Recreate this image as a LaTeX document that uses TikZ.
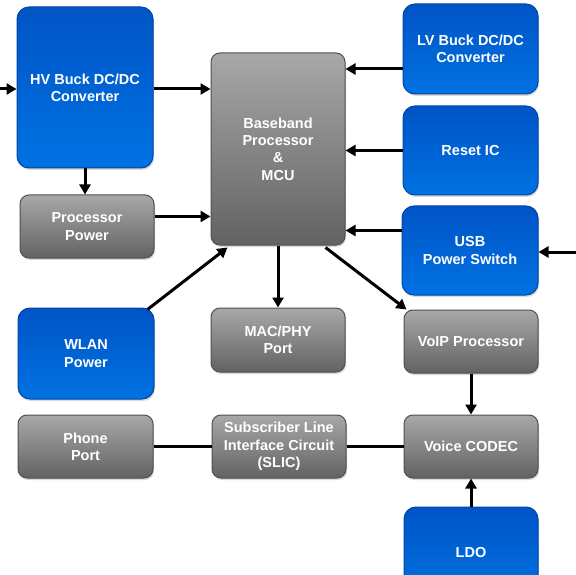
\documentclass[tikz,border=0pt]{standalone}
\usepackage{fontspec}
\setmainfont{Liberation Sans}
\usetikzlibrary{arrows.meta,shadows}
\definecolor{bluetop}{RGB}{0,84,198}
\definecolor{bluebot}{RGB}{0,114,226}
\definecolor{blueedge}{RGB}{0,70,168}
\definecolor{greytop}{RGB}{168,168,168}
\definecolor{greybot}{RGB}{98,98,98}
\definecolor{greyedge}{RGB}{80,80,80}

\begin{document}
\begin{tikzpicture}[x=1pt,y=-1pt,
    box/.style={text=white, align=center, inner sep=0pt, line width=1pt,
      font=\fontsize{14.5}{17.3}\selectfont\bfseries,
      drop shadow={shadow xshift=1pt, shadow yshift=-2pt, opacity=0.3}},
    bluebox/.style={box, rounded corners=12pt, draw=blueedge, top color=bluetop, bottom color=bluebot},
    greybox/.style={box, rounded corners=9pt, draw=greyedge, top color=greytop, bottom color=greybot},
    arr/.style={line width=3pt, -{Triangle[length=10pt,width=11pt]}},
    wire/.style={line width=3pt}]

    \useasboundingbox (0,0) rectangle (576,575);
    \clip (0,0) rectangle (576,575);

    \node[bluebox, minimum width=136pt, minimum height=161pt] (hv) at (85,87.5) {HV Buck DC/DC\\Converter};
    \node[greybox, minimum width=134pt, minimum height=63pt] (procpow) at (87,226.5) {Processor\\Power};
    \node[greybox, minimum width=134pt, minimum height=192pt] (bb) at (278,149) {Baseband\\Processor\\\&\\MCU};
    \node[bluebox, minimum width=135pt, minimum height=90pt] (lv) at (470.5,49) {LV Buck DC/DC\\Converter};
    \node[bluebox, minimum width=135pt, minimum height=89pt] (reset) at (470.5,150.5) {Reset IC};
    \node[bluebox, minimum width=136pt, minimum height=89pt] (usb) at (470,250.5) {USB\\Power Switch};
    \node[bluebox, minimum width=136pt, minimum height=91pt] (wlan) at (86,353.5) {WLAN\\Power};
    \node[greybox, minimum width=134pt, minimum height=64pt] (mac) at (278,340) {MAC/PHY\\Port};
    \node[greybox, minimum width=134pt, minimum height=63pt] (voip) at (471,341.5) {VoIP Processor};
    \node[greybox, minimum width=135pt, minimum height=63pt] (phone) at (85.5,446.5) {Phone\\Port};
    \node[greybox, minimum width=134pt, minimum height=63pt] (slic) at (279,446.5) {Subscriber Line\\Interface Circuit\\(SLIC)};
    \node[greybox, minimum width=134pt, minimum height=63pt] (codec) at (471,446.5) {Voice CODEC};
    \node[bluebox, minimum width=134pt, minimum height=92pt] (ldo) at (471,553) {LDO};

    \coordinate (hvin) at (0,89);
    \coordinate (usbin) at (576,252);

    \draw[arr] (hvin) -- (hvin -| hv.west);
    \draw[arr] ([yshift=-1.5pt]hv.east) -- ([yshift=-1.5pt]hv.east -| bb.west);
    \draw[arr] (hv.south) -- (hv.south |- procpow.north);
    \draw[arr] ([yshift=10pt]procpow.east) -- ([yshift=10pt]procpow.east -| bb.west);
    \draw[arr] ([yshift=-20pt]lv.west) -- ([yshift=-20pt]lv.west -| bb.east);
    \draw[arr] (reset.west) -- (reset.west -| bb.east);
    \draw[arr] ([yshift=20pt]usb.west) -- ([yshift=20pt]usb.west -| bb.east);
    \draw[arr] (usbin) -- (usbin -| usb.east);
    \draw[arr] ([xshift=-7pt,yshift=-2pt]wlan.north east) -- ([xshift=17pt,yshift=-2pt]bb.south west);
    \draw[arr] (bb.south) -- (mac.north);
    \draw[arr] ([xshift=-20pt,yshift=-2pt]bb.south east) -- ([xshift=3pt]voip.north west);
    \draw[arr] (voip.south) -- (codec.north);
    \draw[arr] (ldo.north) -- (codec.south);
    \draw[wire] (phone.east) -- (slic.west);
    \draw[wire] (slic.east) -- (codec.west);

\end{tikzpicture}
\end{document}
